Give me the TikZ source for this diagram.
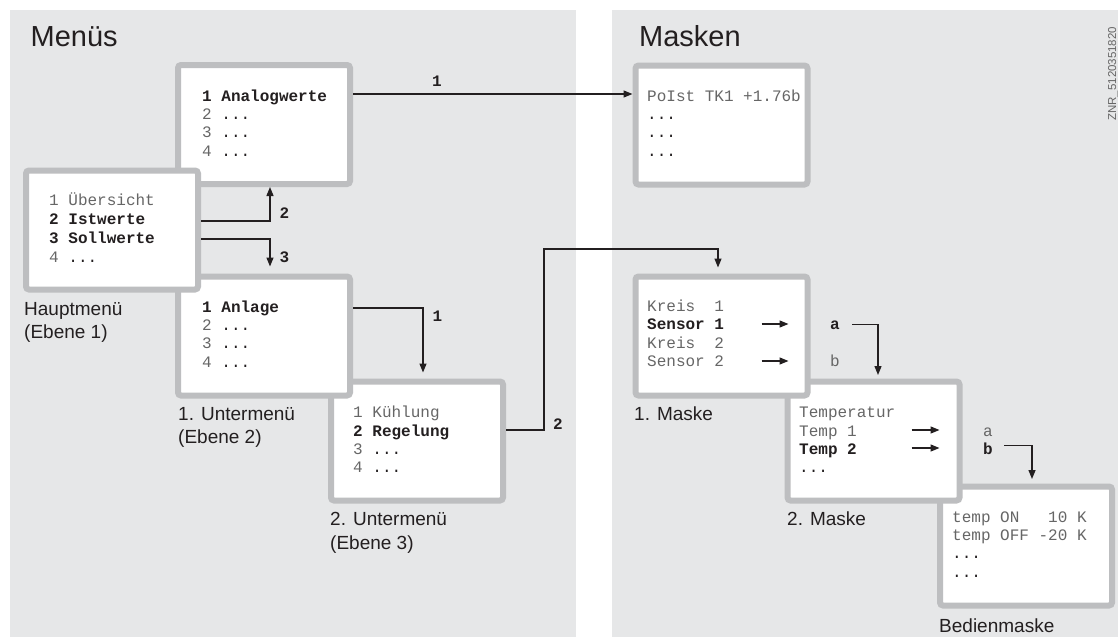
\documentclass[tikz,border=0pt]{standalone}
\usepackage{fontspec}
\newfontfamily\monofont{Liberation Mono}
\newfontfamily\sansfont{Liberation Sans}
\usetikzlibrary{arrows.meta,calc}
\definecolor{panel}{HTML}{E6E7E8}
\definecolor{frame}{HTML}{BDBEC0}
\definecolor{txtgray}{HTML}{666666}
\definecolor{ink}{HTML}{231F20}
\tikzset{
  screen/.style={draw=frame, fill=white, line width=6pt, rounded corners=3pt,
    minimum width=172pt, minimum height=119pt, inner sep=0pt},
  ln/.style={anchor=base west, inner sep=0pt, font=\monofont\fontsize{16}{18}\selectfont, text=txtgray},
  lnb/.style={anchor=base west, inner sep=0pt, font=\monofont\bfseries\fontsize{16}{18}\selectfont, text=ink},
  capt/.style={anchor=base west, inner sep=0pt, font=\sansfont\fontsize{19}{23}\selectfont, text=ink},
  ttl/.style={anchor=base west, inner sep=0pt, font=\sansfont\fontsize{29}{34}\selectfont, text=ink},
  conn/.style={draw=ink, line width=1.3pt, -{Triangle[length=9pt,width=7pt]}},
  lab/.style={inner sep=0pt, font=\monofont\bfseries\fontsize{16}{18}\selectfont, text=ink},
}
\begin{document}
\begin{tikzpicture}[x=1pt,y=-1pt]
\useasboundingbox (0,0) rectangle (1118,637);
\fill[panel] (10,10) rectangle (576,637);
\fill[panel] (612,10) rectangle (1118,637);

\node[ttl] (tmen) at (30.5,46) {Menüs};
\node[ttl] (tmas) at (639,46) {Masken};

% screens (earlier ones lie on top)
\node[screen] (A) at (264,124.5) {};
\node[screen] (U2) at (417,441) {};
\node[screen] (U1) at (264,336) {};
\node[screen] (H) at (112,230) {};
\node[screen] (M0) at (721.5,125) {};
\node[screen] (BM) at (1026,546) {};
\node[screen] (M2) at (873.5,441) {};
\node[screen] (M1) at (721.5,336) {};

% texts of screens
\node[lnb] (a1) at (202,101) {1 Analogwerte};
\node[ln] (a2) at (202,119.3) {2 \textcolor{ink}{...}};
\node[ln] (a3) at (202,137.6) {3 \textcolor{ink}{...}};
\node[ln] (a4) at (202,156) {4 \textcolor{ink}{...}};

\node[ln] (h1) at (49,205) {1 Übersicht};
\node[lnb] (h2) at (49,224) {2 Istwerte};
\node[lnb] (h3) at (49,243) {3 Sollwerte};
\node[ln] (h4) at (49,262) {4 \textcolor{ink}{...}};

\node[lnb] (u1) at (202,312) {1 Anlage};
\node[ln] (u12) at (202,330.3) {2 \textcolor{ink}{...}};
\node[ln] (u13) at (202,348.6) {3 \textcolor{ink}{...}};
\node[ln] (u14) at (202,367) {4 \textcolor{ink}{...}};

\node[ln] (v1) at (353,417) {1 Kühlung};
\node[lnb] (u2) at (353,436) {2 Regelung};
\node[ln] (v3) at (353,454) {3 \textcolor{ink}{...}};
\node[ln] (v4) at (353,472.5) {4 \textcolor{ink}{...}};

\node[ln] (m01) at (647,101) {PoIst TK1 +1.76b};
\node[ln] (m02) at (647,119) {\textcolor{ink}{...}};
\node[ln] (m03) at (647,137.5) {\textcolor{ink}{...}};
\node[ln] (m04) at (647,156) {\textcolor{ink}{...}};

\node[ln] (k1) at (647,311) {Kreis\ \ 1};
\node[lnb] (s1) at (647,329) {Sensor 1};
\node[ln] (k2) at (647,348) {Kreis\ \ 2};
\node[ln] (s2) at (647,366) {Sensor 2};

\node[ln] (t0) at (799,417) {Temperatur};
\node[ln] (t1) at (799,436) {Temp 1};
\node[lnb] (t2) at (799,454) {Temp 2};
\node[ln] (t3) at (799,472) {\textcolor{ink}{...}};

\node[ln] (b1) at (952,522) {temp ON\ \ \ 10 K};
\node[ln] (b2) at (952,540.5) {temp OFF -20 K};
\node[ln] (b3) at (952,558) {\textcolor{ink}{...}};
\node[ln] (b4) at (952,577) {\textcolor{ink}{...}};

% captions
\node[capt] (c1a) at (24,315) {Hauptmenü};
\node[capt] (c1b) at (24,338) {(Ebene 1)};
\node[capt] (c2a) at (178,420) {1. Untermenü};
\node[capt] (c2b) at (178,443) {(Ebene 2)};
\node[capt] (c3a) at (330,525) {2. Untermenü};
\node[capt] (c3b) at (330,549) {(Ebene 3)};
\node[capt] (c4) at (634,420) {1. Maske};
\node[capt] (c5) at (787,525) {2. Maske};
\node[capt] (c6) at (939,632) {Bedienmaske};

\node[font=\sansfont\fontsize{11.5}{14}\selectfont, text=txtgray, rotate=90, anchor=base west, inner sep=0pt] (znr) at (1116,121) {ZNR\_5120351820};

% a / b choices
\node[lab, anchor=base] (ma1) at (835,329) {a};
\node[ln, anchor=base] (mb1) at (835,366) {b};
\node[ln, anchor=base] (ma2) at (988,436) {a};
\node[lab, anchor=base] (mb2) at (988,454) {b};

% small arrows inside masks
\draw[conn] ($(M1.east |- s1.base)+(-49,-5)$) -- ($(M1.east |- s1.base)+(-22,-5)$);
\draw[conn] ($(M1.east |- s2.base)+(-49,-5)$) -- ($(M1.east |- s2.base)+(-22,-5)$);
\draw[conn] ($(M2.east |- t1.base)+(-51,-6)$) -- ($(M2.east |- t1.base)+(-23,-6)$);
\draw[conn] ($(M2.east |- t2.base)+(-51,-6)$) -- ($(M2.east |- t2.base)+(-23,-6)$);

% connectors
\draw[conn] ($(A.east |- a1.base)+(0,-7)$) -- node[lab, pos=0.3, above=7pt] (l1) {1} ($(M0.west |- a1.base)+(0,-7)$);
\draw[conn] ($(H.east |- h2.base)+(0,-3)$) -| node[lab, pos=0.62, right=9pt] (l2) {2} ([xshift=6pt]A.south);
\draw[conn, shorten >=7pt] ($(H.east |- h3.base)+(0,-4)$) -| node[lab, pos=0.77, right=9pt] (l3) {3} ([xshift=6pt]U1.north);
\draw[conn, shorten >=6pt] ($(U1.east |- u1.base)+(0,-4)$) -| node[lab, pos=0.555, right=9pt] (l4) {1} ([xshift=6pt]U2.north);
\coordinate (k) at (544,249);
\draw[conn, shorten >=6pt] ($(U2.east |- u2.base)+(0,-6)$) -| (k) -| ([xshift=-3.5pt]M1.north);
\node[lab, anchor=west] (l5) at ($(k |- u2.base)+(9,-12)$) {2};
\draw[conn, shorten <=12pt, shorten >=3.5pt] (ma1.east) -| ([xshift=4.5pt]M2.north);
\draw[conn, shorten <=11pt, shorten >=4.5pt] ([yshift=3pt]mb2.east) -| ([xshift=6pt]BM.north);
\end{tikzpicture}
\end{document}
